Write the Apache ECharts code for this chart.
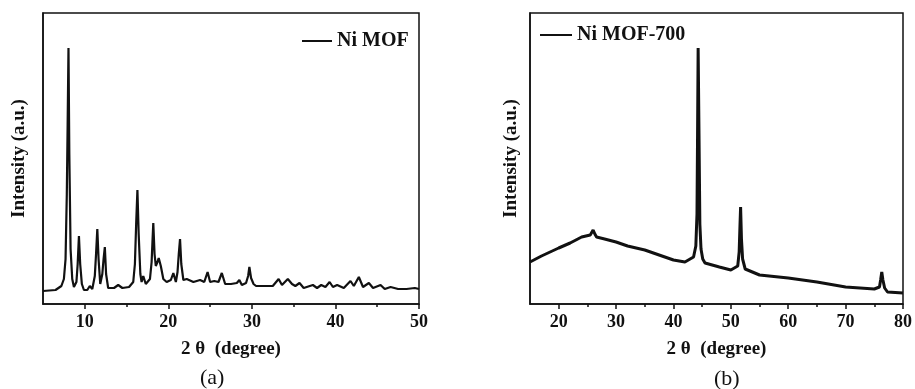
<!DOCTYPE html>
<html>
<head>
<meta charset="utf-8">
<script src="https://cdn.jsdelivr.net/npm/echarts@6/dist/echarts.min.js"></script>
<style>
  html, body { margin: 0; padding: 0; background: #fff; }
  #container { width: 915px; height: 389px; }
</style>
</head>
<body>
<div id="container"></div>
<script>
// Ni MOF pattern, 2θ (degree) and intensity (a.u.)
const mofTheta = [
  5, 6.5, 7.2, 7.5, 7.7, 7.85, 7.95, 8.05, 8.15, 8.3, 8.5, 8.7, 9.0, 9.15, 9.3, 9.45, 9.65, 9.9,
  10.3, 10.6, 10.9, 11.2, 11.35, 11.5, 11.65, 11.85, 12.1, 12.25, 12.4, 12.55, 12.8, 13.5, 14.0,
  14.5, 15.3, 15.8, 16.0, 16.15, 16.3, 16.45, 16.65, 16.8, 17.0, 17.3, 17.8, 18.0, 18.1, 18.2,
  18.35, 18.5, 18.7, 18.85, 19.1, 19.4, 19.8, 20.3, 20.6, 20.9, 21.1, 21.25, 21.4, 21.55, 21.8,
  22.2, 23.0, 23.8, 24.3, 24.7, 25.0, 25.5, 26.0, 26.4, 26.8, 27.5, 28.2, 28.5, 28.8, 29.3, 29.55,
  29.7, 29.9, 30.2, 30.5, 31.5, 32.5, 33.2, 33.6, 34.3, 34.8, 35.2, 35.7, 36.2, 37.3, 37.8, 38.3,
  38.8, 39.3, 39.7, 40.2, 41.0, 41.8, 42.2, 42.8, 43.3, 44.0, 44.5, 45.4, 45.9, 46.6, 47.5, 48.5,
  49.5, 50
]
const mofCounts = [
  13, 14, 18, 25, 45, 110, 180, 256, 150, 55, 25, 17, 22, 40, 68, 40, 20, 14,
  14, 18, 15, 28, 50, 75, 45, 20, 30, 45, 57, 30, 16, 16, 19,
  16, 17, 22, 40, 80, 114, 70, 30, 22, 28, 20, 25, 42, 62, 81,
  50, 38, 42, 46, 38, 25, 22, 24, 31, 22, 32, 50, 65, 40, 24,
  25, 22, 24, 22, 32, 22, 23, 22, 31, 20, 20, 21, 24, 19, 21, 28,
  37, 26, 20, 18, 18, 18, 25, 19, 25, 20, 18, 21, 16, 19, 16, 19,
  17, 22, 17, 19, 16, 23, 18, 27, 17, 21, 16, 19, 15, 17, 15, 15,
  16, 15
]

// Ni MOF-700 pattern
const mof700Theta = [
  15, 17, 20, 22, 24, 25.5, 25.8, 26.0, 26.3, 26.6, 28, 30, 32, 35, 38, 40, 42, 43.5, 43.9,
  44.1, 44.2, 44.3, 44.45, 44.6, 44.8, 45.1, 45.5, 48, 50, 51.2, 51.45, 51.6, 51.7, 51.85,
  52.05, 52.5, 55, 60, 65, 70, 75, 75.9, 76.1, 76.3, 76.5, 76.8, 77.3, 80
]
const mof700Counts = [
  42, 48, 56, 61, 67, 69, 71, 74, 70, 67, 65, 62, 58, 54, 48, 44, 42, 47, 58,
  90, 170, 256, 170, 80, 55, 45, 41, 37, 34, 38, 52, 80, 97, 65,
  45, 35, 29, 26, 22, 17, 15, 17, 24, 32, 24, 16, 12, 11
]

const ticksA = [10, 20, 30, 40, 50]
const minorA = [15, 25, 35, 45]
const ticksB = [20, 30, 40, 50, 60, 70, 80]
const minorB = [25, 35, 45, 55, 65, 75]

const zip = (xs, ys) => xs.map((x, i) => [x, ys[i]])

const serif = '"Liberation Serif", "Times New Roman", serif'
const ink = '#111'

const grids = [
  { left: 43, top: 13, width: 376, height: 291 },
  { left: 530, top: 13, width: 375, height: 291 }
]

function xAxes(gridIndex, min, max, major, minor) {
  return [
    {
      type: 'value',
      gridIndex,
      min,
      max,
      name: '2 θ  (degree)',
      nameLocation: 'middle',
      nameGap: 36,
      nameTextStyle: { fontFamily: serif, fontWeight: 'bold', fontSize: 19, color: ink },
      axisLine: { show: true, lineStyle: { color: ink, width: 1.5 } },
      axisTick: { show: true, customValues: major, length: 5, lineStyle: { color: ink, width: 1.5 } },
      axisLabel: {
        customValues: major,
        fontFamily: serif,
        fontWeight: 'bold',
        fontSize: 18,
        color: ink,
        margin: 9
      },
      splitLine: { show: false }
    },
    {
      type: 'value',
      gridIndex,
      min,
      max,
      position: 'bottom',
      axisLine: { show: false },
      axisTick: { show: true, customValues: minor, length: 3, lineStyle: { color: ink, width: 1.5 } },
      axisLabel: { show: false },
      splitLine: { show: false }
    }
  ]
}

function yAxis(gridIndex, nameGap) {
  return {
    type: 'value',
    gridIndex,
    min: 0,
    max: 291,
    name: 'Intensity (a.u.)',
    nameLocation: 'middle',
    nameGap,
    nameTextStyle: { fontFamily: serif, fontWeight: 'bold', fontSize: 19, color: ink },
    axisLine: { show: true, lineStyle: { color: ink, width: 1.5 } },
    axisTick: { show: false },
    axisLabel: { show: false },
    splitLine: { show: false }
  }
}

const myChart = echarts.init(document.getElementById('container'))

const option = {
  backgroundColor: '#fff',
  animation: false,
  title: [
    { text: '(a)', left: 195, top: 362, textStyle: { fontFamily: serif, fontWeight: 'normal', fontSize: 22, color: ink } },
    { text: '(b)', left: 709, top: 363, textStyle: { fontFamily: serif, fontWeight: 'normal', fontSize: 22, color: ink } }
  ],
  legend: [
    {
      data: ['Ni MOF'],
      left: 297,
      top: 26,
      icon: 'rect',
      itemWidth: 30,
      itemHeight: 2,
      itemGap: 8,
      textStyle: { fontFamily: serif, fontWeight: 'bold', fontSize: 20, color: ink }
    },
    {
      data: ['Ni MOF-700'],
      left: 535,
      top: 20,
      icon: 'rect',
      itemWidth: 32,
      itemHeight: 2,
      textStyle: { fontFamily: serif, fontWeight: 'bold', fontSize: 20, color: ink }
    }
  ],
  grid: grids.map(g => Object.assign({ show: true, borderColor: ink, borderWidth: 1.5, backgroundColor: 'transparent' }, g)),
  xAxis: [...xAxes(0, 5, 50, ticksA, minorA), ...xAxes(1, 15, 80, ticksB, minorB)],
  yAxis: [yAxis(0, 14), yAxis(1, 9)],
  series: [
    {
      name: 'Ni MOF',
      type: 'line',
      xAxisIndex: 0,
      yAxisIndex: 0,
      showSymbol: false,
      lineStyle: { color: ink, width: 2.2 },
      itemStyle: { color: ink },
      data: zip(mofTheta, mofCounts)
    },
    {
      name: 'Ni MOF-700',
      type: 'line',
      xAxisIndex: 2,
      yAxisIndex: 1,
      showSymbol: false,
      lineStyle: { color: ink, width: 3 },
      itemStyle: { color: ink },
      data: zip(mof700Theta, mof700Counts)
    }
  ]
}

myChart.setOption(option)
</script>
</body>
</html>
